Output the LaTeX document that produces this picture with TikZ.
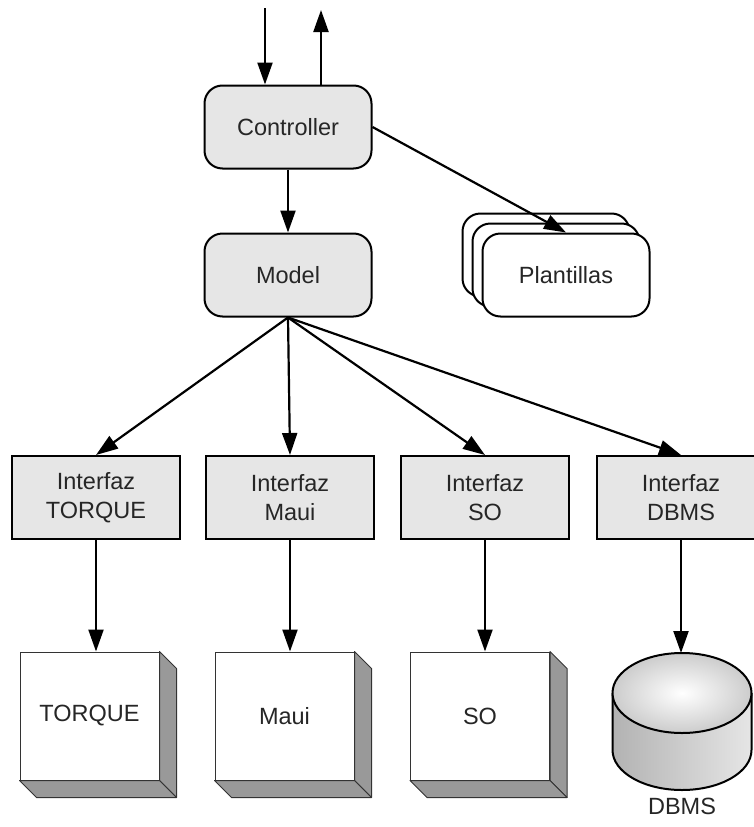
\documentclass[tikz,border=0pt]{standalone}
\usepackage{fontspec}
\setmainfont{Liberation Sans}
\usetikzlibrary{arrows.meta, calc, positioning}
\definecolor{boxgray}{HTML}{E6E6E6}
\definecolor{sidegray}{HTML}{999999}
\definecolor{txtgray}{HTML}{262626}
\newcommand{\diagArrow}{{Triangle[length=22pt, width=15pt]}}

\begin{document}
\begin{tikzpicture}[x=1pt, y=-1pt, font=\fontsize{23.5}{29}\selectfont, text=txtgray, line width=2pt,
	rbox/.style={draw, rounded corners=18pt, minimum width=167pt, minimum height=83pt, align=center},
	ibox/.style={draw, fill=boxgray, minimum width=168pt, minimum height=83pt, align=center},
	cube/.style={draw=black!80, line width=1pt, fill=white, minimum width=139pt, minimum height=128pt},
	side/.style={fill=sidegray, draw=black!80, line width=1pt, line join=round},
	arr/.style={-\diagArrow, line width=2.2pt}]
	\useasboundingbox (0,0) rectangle (754,827);

	\coordinate (inA) at (265,8);
	\coordinate (outA) at (321,10);
	\node[rbox, fill=boxgray] (ctrl) at (288,127) {Controller};
	\node[rbox, fill=boxgray] (model) at (288,275) {Model};

	\node[rbox, fill=white] (plantC) at (546,255) {};
	\node[rbox, fill=white] (plantB) at (556,265) {};
	\node[rbox, fill=white] (plant) at (566,275) {Plantillas};

	\node[ibox] (itorque) at (96,497.5) {Interfaz\\TORQUE};
	\node[ibox] (imaui) at (290,497.5) {Interfaz\\Maui};
	\node[ibox] (iso) at (485,497.5) {Interfaz\\SO};
	\node[ibox] (idbms) at (681,497.5) {Interfaz\\DBMS};

	\node[cube] (torque) at (89.5,716) {TORQUE};
	\node[cube] (maui) at (284.5,716) {Maui};
	\node[cube] (so) at (480,716) {SO};
	\foreach \c in {torque,maui,so}{
		\filldraw[side] (\c.north east) --++ (17,17) -- ($(\c.south east)+(17,17)$) -- (\c.south east) -- cycle;
		\filldraw[side] (\c.south west) --++ (17,17) -- ($(\c.south east)+(17,17)$) -- (\c.south east) -- cycle;
	}

	\def\Rx{69.5pt}
	\def\Ry{40pt}
	\coordinate (dbtop) at (682,653);
	\coordinate (dbbot) at (682,790);
	\shade[left color=black!30, right color=black!10] (612.5,693) -- (612.5,750) arc[start angle=180, end angle=360, x radius=\Rx, y radius=\Ry] -- (751.5,693) -- cycle;
	\draw (612.5,693) -- (612.5,750) arc[start angle=180, end angle=360, x radius=\Rx, y radius=\Ry] -- (751.5,693);
	\shadedraw[inner color=white, outer color=black!20] (682,693) ellipse [x radius=\Rx, y radius=\Ry];
	\node[below=4pt of dbbot] (dbms) {DBMS};

	\draw[arr] (inA) -- (inA |- ctrl.north);
	\draw[arr] (outA |- ctrl.north) -- (outA);
	\draw[arr] (ctrl) -- (model);
	\draw[arr] (ctrl.east) -- (plant.north);
	\foreach \i in {itorque,imaui,iso,idbms}
		\draw[arr] (model.south) -- (\i.north);
	\draw[arr] (itorque.south) -- (itorque.south |- torque.north);
	\draw[arr] (imaui.south) -- (imaui.south |- maui.north);
	\draw[arr] (iso.south) -- (iso.south |- so.north);
	\draw[arr] (idbms.south) -- (idbms.south |- dbtop);
\end{tikzpicture}
\end{document}
